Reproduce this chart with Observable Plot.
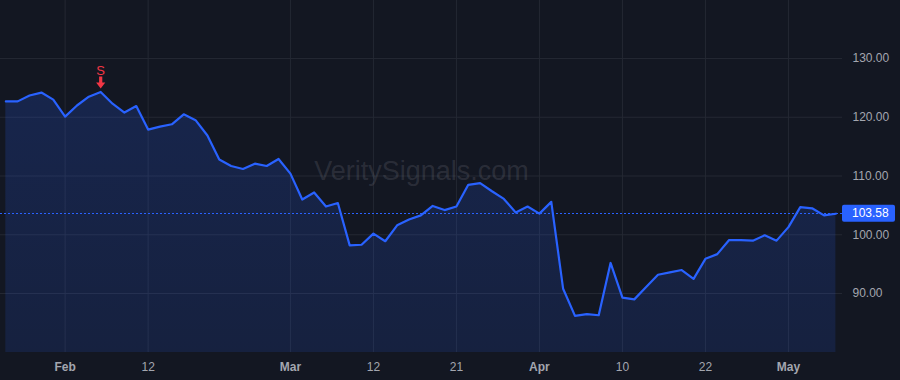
<!DOCTYPE html>
<html>
<head>
<meta charset="utf-8">
<script src="https://cdn.jsdelivr.net/npm/d3@7"></script>
<script src="https://cdn.jsdelivr.net/npm/@observablehq/plot@0.6"></script>
<style>
  html, body { margin: 0; padding: 0; background: #131722; }
  #chart { width: 900px; height: 380px; }
</style>
</head>
<body>
<div id="chart"></div>
<script>
// ---- data (one value per trading session) ----
const prices = [
  122.7, 122.7, 123.7, 124.2, 123.0, 120.1, 122.0, 123.5, 124.3, 122.3,
  120.8, 121.9, 117.9, 118.4, 118.8, 120.5, 119.5, 116.9, 112.8, 111.7,
  111.2, 112.1, 111.7, 112.9, 110.4, 106.0, 107.2, 104.8, 105.4, 98.2,
  98.3, 100.2, 98.9, 101.6, 102.6, 103.3, 104.9, 104.2, 104.8, 108.5,
  108.8, 107.4, 106.1, 103.8, 104.8, 103.6, 105.6, 90.8, 86.2, 86.5,
  86.3, 95.2, 89.3, 89.0, 91.1, 93.2, 93.6, 94.0, 92.5, 95.9,
  96.7, 99.1, 99.1, 99.0, 99.9, 99.0, 101.3, 104.7, 104.5, 103.3,
  103.58
];
const lastPrice = 103.58;
const xTickIndex = [5, 12, 24, 31, 38, 45, 52, 59, 66];
const xTickLabels = ["Feb", "12", "Mar", "12", "21", "Apr", "10", "22", "May"];
const yTicks = [90, 100, 110, 120, 130];
const signalIndex = [8];
const signalLabels = ["S"];
const watermark = "VeritySignals.com";

// ---- tables built from the arrays ----
const data = prices.map((v, i) => ({i, v}));
const labelOf = new Map(xTickIndex.map((t, k) => [t, xTickLabels[k]]));
const monthTicks = xTickIndex.filter(t => isNaN(+labelOf.get(t)));
const dayTicks = xTickIndex.filter(t => !isNaN(+labelOf.get(t)));
const signals = signalIndex.map((i, k) => ({i, v: prices[i], label: signalLabels[k]}));

const blue = "#2962ff";
const red = "#f23645";
const grid = "#242833";
const txt = "#a3a6af";
const font = "'Liberation Sans', Arial, sans-serif";

const arrowShape = {
  draw(context, l) {
    const h = 6, s = 1.6, w = 4.6;
    context.moveTo(-s, 0);
    context.lineTo(-s, -(l - h));
    context.lineTo(-w, -(l - h));
    context.lineTo(0, -l);
    context.lineTo(w, -(l - h));
    context.lineTo(s, -(l - h));
    context.lineTo(s, 0);
    context.closePath();
  }
};

const W = 900, H = 380, MR = 58, MB = 28;
const plot = Plot.plot({
  width: W,
  height: H,
  marginLeft: 0,
  marginRight: MR,
  marginTop: 0,
  marginBottom: MB,
  style: {background: "#131722", color: txt, fontFamily: font, fontSize: "12px", overflow: "visible"},
  x: {type: "linear", domain: [-0.45, prices.length - 1 + 0.56]},
  y: {domain: [79.96, 139.87]},
  marks: [
    Plot.gridX(xTickIndex, {stroke: grid, strokeOpacity: 1}),
    Plot.gridY(yTicks, {stroke: grid, strokeOpacity: 1}),
    Plot.text([watermark], {frameAnchor: "middle", dy: -5, fontSize: 27, fill: "#787b86", fillOpacity: 0.24}),
    Plot.areaY(data, {x: "i", y: "v", fill: "url(#areaGrad)", clip: true}),
    Plot.ruleY([lastPrice], {stroke: blue, strokeDasharray: "2,2", strokeWidth: 1, shapeRendering: "crispEdges"}),
    Plot.lineY(data, {x: "i", y: "v", stroke: blue, strokeWidth: 2.2, strokeLinejoin: "round"}),
    Plot.vector(signals, {x: "i", y: "v", length: 12, rotate: 180, anchor: "end", dy: -3.5, shape: arrowShape, fill: red, stroke: "none"}),
    Plot.text(signals, {x: "i", y: "v", text: "label", dy: -21, fill: red, fontSize: 13}),
    Plot.axisX(monthTicks, {label: null, tickSize: 0, tickPadding: 10, tickFormat: t => labelOf.get(t), fontWeight: "bold", fill: txt}),
    Plot.axisX(dayTicks, {label: null, tickSize: 0, tickPadding: 10, tickFormat: t => labelOf.get(t), fill: txt}),
    Plot.axisY(yTicks, {label: null, anchor: "right", tickSize: 0, tickPadding: 10, tickFormat: d => d.toFixed(2), fill: txt})
  ]
});

// gradient for the area fill
const svg = d3.select(plot);
const defs = svg.insert("defs", ":first-child");
const g = defs.append("linearGradient").attr("id", "areaGrad").attr("x1", 0).attr("x2", 0).attr("y1", 0).attr("y2", 1);
g.append("stop").attr("offset", "0%").attr("stop-color", blue).attr("stop-opacity", 0.19);
g.append("stop").attr("offset", "100%").attr("stop-color", blue).attr("stop-opacity", 0.03);

// last price badge on the right axis
const yy = plot.scale("y").apply(lastPrice);
const x0 = W - MR;
svg.append("rect").attr("x", x0).attr("y", yy - 8.5).attr("width", 53).attr("height", 17).attr("rx", 2).attr("fill", blue);
svg.append("text").attr("x", x0 + 10).attr("y", yy).attr("dy", "0.35em")
  .attr("text-anchor", "start")
  .attr("fill", "#ffffff").attr("font-size", 12).attr("font-family", font)
  .text(lastPrice.toFixed(2));

document.getElementById("chart").appendChild(plot);
</script>
</body>
</html>
